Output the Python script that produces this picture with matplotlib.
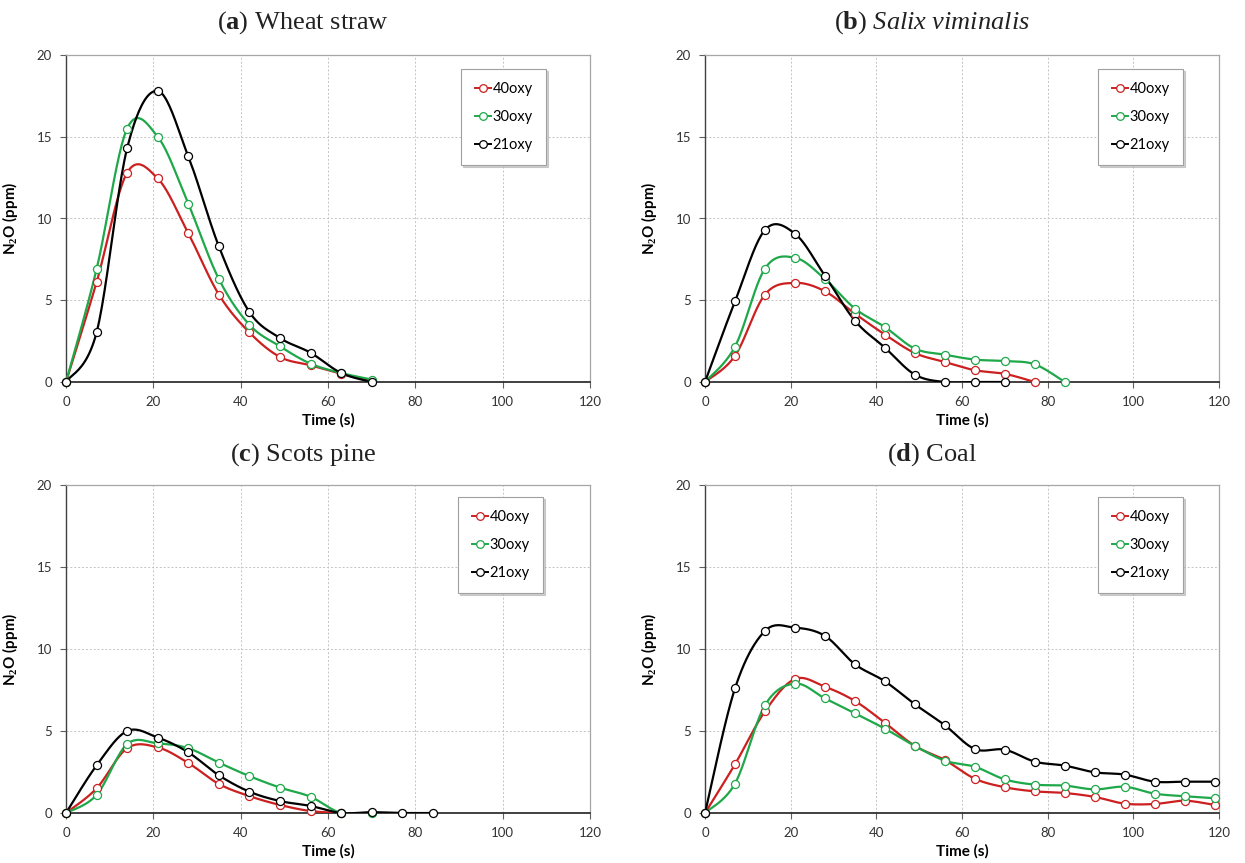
import numpy as np
import matplotlib
matplotlib.use("Agg")
import matplotlib.pyplot as plt
from matplotlib.lines import Line2D

# ---------------- data ----------------
time_step = 7
series_labels = ["40oxy", "30oxy", "21oxy"]

wheat_40 = [0, 6.1, 12.8, 12.45, 9.1, 5.35, 3.03, 1.53, 1.02, 0.5, 0.05]
wheat_30 = [0, 6.9, 15.5, 15.0, 10.9, 6.3, 3.5, 2.18, 1.12, 0.55, 0.15]
wheat_21 = [0, 3.03, 14.3, 17.8, 13.8, 8.3, 4.28, 2.69, 1.79, 0.55, 0.0]

salix_40 = [0, 1.6, 5.35, 6.06, 5.55, 4.18, 2.9, 1.77, 1.22, 0.72, 0.5, 0.0]
salix_30 = [0, 2.16, 6.94, 7.6, 6.3, 4.49, 3.36, 2.04, 1.67, 1.37, 1.28, 1.08, 0.0]
salix_21 = [0, 4.93, 9.3, 9.07, 6.5, 3.75, 2.1, 0.45, 0.0, 0.0, 0.0]

pine_40 = [0, 1.5, 3.95, 4.0, 3.05, 1.77, 1.03, 0.49, 0.12, 0.0]
pine_30 = [0, 1.1, 4.2, 4.25, 3.95, 3.07, 2.25, 1.55, 0.99, 0.0, 0.02]
pine_21 = [0, 2.9, 5.0, 4.6, 3.7, 2.3, 1.3, 0.73, 0.43, 0.0, 0.05, 0.0, 0.0]

coal_40 = [0, 2.97, 6.2, 8.17, 7.7, 6.83, 5.5, 4.09, 3.23, 2.09, 1.57, 1.32,
           1.22, 0.98, 0.57, 0.55, 0.75, 0.49]
coal_30 = [0, 1.79, 6.57, 7.89, 6.99, 6.08, 5.14, 4.09, 3.19, 2.82, 2.05, 1.73,
           1.67, 1.44, 1.6, 1.18, 1.02, 0.9]
coal_21 = [0, 7.6, 11.1, 11.3, 10.8, 9.07, 8.03, 6.63, 5.35, 3.9, 3.86, 3.13,
           2.89, 2.48, 2.34, 1.91, 1.91, 1.91]

panel_letters = ["a", "b", "c", "d"]
panel_names = [r"Wheat straw", r"$\mathit{Salix\ viminalis}$", r"Scots pine", r"Coal"]
panel_data = [
    (wheat_40, wheat_30, wheat_21),
    (salix_40, salix_30, salix_21),
    (pine_40, pine_30, pine_21),
    (coal_40, coal_30, coal_21),
]

x_ticks = [0, 20, 40, 60, 80, 100, 120]
y_ticks = [0, 5, 10, 15, 20]
x_label = "Time (s)"
y_label = r"N$_\mathbf{2}$O (ppm)"

colors = ["#cc2020", "#1fa84a", "#000000"]

# ---------------- style ----------------
plt.rcParams["font.family"] = ["Lato", "DejaVu Sans"]
plt.rcParams["mathtext.fontset"] = "custom"
plt.rcParams["mathtext.rm"] = "Liberation Serif"
plt.rcParams["mathtext.it"] = "Liberation Serif:italic"
plt.rcParams["mathtext.bf"] = "Liberation Serif:bold"


def excel_smooth(x, y, n=24):
    """Excel-style smoothed line (Catmull-Rom Bezier) through the points."""
    x = np.asarray(x, float)
    y = np.asarray(y, float)
    P = np.column_stack([x, y])
    out = [P[0]]
    t = np.linspace(0, 1, n)[1:]
    for i in range(len(P) - 1):
        p0 = P[i - 1] if i > 0 else P[i]
        p1 = P[i]
        p2 = P[i + 1]
        p3 = P[i + 2] if i + 2 < len(P) else P[i + 1]
        c1 = p1 + (p2 - p0) / 6.0
        c2 = p2 - (p3 - p1) / 6.0
        tt = t[:, None]
        seg = ((1 - tt) ** 3) * p1 + 3 * ((1 - tt) ** 2) * tt * c1 \
            + 3 * (1 - tt) * tt ** 2 * c2 + tt ** 3 * p2
        out.extend(seg)
    out = np.array(out)
    return out[:, 0], out[:, 1]


W, H = 1245, 863
fig = plt.figure(figsize=(W / 100, H / 100), dpi=100)

# axes rectangles in pixels: left, top, right, bottom
rects = [(66, 55, 590, 382), (705, 55, 1219, 382),
         (66, 485, 590, 813), (705, 485, 1219, 813)]
title_pos = [(303, 23), (932, 23), (303, 455), (932, 455)]
legend_anchor = [(546, 69), (1183, 69), (543, 497), (1183, 497)]

for k in range(4):
    l, t, r, b = rects[k]
    ax = fig.add_axes([l / W, 1 - b / H, (r - l) / W, (b - t) / H])
    for s, c in zip(panel_data[k], colors):
        xs = np.arange(len(s)) * time_step
        sx, sy = excel_smooth(xs, s)
        ax.plot(sx, sy, color=c, lw=1.6, zorder=3, solid_capstyle="round")
        ax.plot(xs, s, linestyle="none", marker="o", ms=5.8, mfc="white",
                mec=c, mew=0.9, zorder=4, clip_on=False)
    ax.set_xlim(0, 120)
    ax.set_ylim(0, 20)
    ax.set_xticks(x_ticks)
    ax.set_yticks(y_ticks)
    ax.grid(True, color="#c4c4c4", linestyle=(0, (2, 2)), linewidth=0.7)
    ax.set_axisbelow(True)
    for sp in ["top", "right"]:
        ax.spines[sp].set_color("#a6a6a6")
        ax.spines[sp].set_linewidth(0.9)
    ax.spines["left"].set_color("#404040")
    ax.spines["bottom"].set_color("#202020")
    ax.spines["left"].set_linewidth(1.0)
    ax.spines["bottom"].set_linewidth(1.2)
    ax.tick_params(direction="out", length=4, width=0.8, color="#606060",
                   labelsize=9.5, labelcolor="#333333", pad=6)
    ax.set_xlabel(x_label, fontsize=11, fontweight="bold", va="top")
    ax.xaxis.set_label_coords(0.5, -31 / (b - t))
    ax.set_ylabel(y_label, fontsize=11, fontweight="bold")
    ax.yaxis.set_label_coords(-46 / (r - l), 0.5)

    handles = [Line2D([], [], color=c, lw=1.4, marker="o", ms=5.5, mfc="white",
                      mec=c, mew=0.9) for c in colors]
    lx, ly = legend_anchor[k]
    leg = ax.legend(handles, series_labels, loc="upper right",
                    bbox_to_anchor=((lx - l) / (r - l), 1 - (ly - t) / (b - t)),
                    fontsize=10.5, frameon=True, fancybox=False,
                    edgecolor="#a0a0a0", framealpha=1.0,
                    shadow={"ox": 1.5, "oy": -1.5, "color": "#b0b0b0", "alpha": 0.6},
                    handlelength=1.1, handletextpad=0.15, labelspacing=0.95,
                    borderpad=0.9, borderaxespad=0.0)
    leg.get_frame().set_linewidth(0.8)

    tx, ty = title_pos[k]
    fig.text(tx / W, 1 - ty / H, r"($\mathbf{%s}$) %s" % (panel_letters[k], panel_names[k]),
             ha="center", va="center", fontsize=19, family="Liberation Serif",
             color="#222222")

fig.savefig("out.png", dpi=100)
